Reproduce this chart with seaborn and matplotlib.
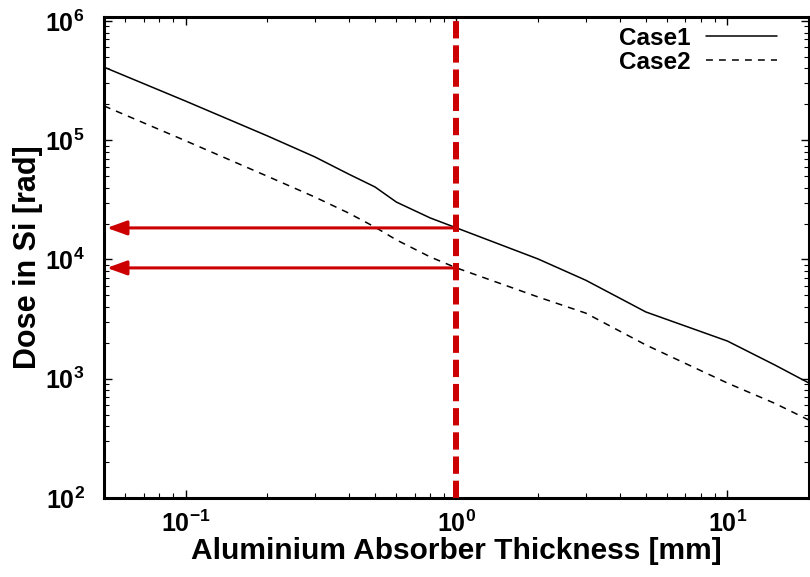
import numpy as np
import pandas as pd
import seaborn as sns
import matplotlib
matplotlib.use("Agg")
import matplotlib.pyplot as plt
from matplotlib.ticker import LogLocator, LogFormatterMathtext, NullFormatter

# ---- data ----
thickness = [0.05, 0.1, 0.2, 0.3, 0.4, 0.5, 0.6, 0.8, 1.0, 2.0, 3.0, 5.0, 10.0, 15.0, 20.0]
case1 = [4.1e5, 2.13e5, 1.09e5, 7.25e4, 5.2e4, 4.06e4, 3.03e4, 2.23e4, 1.84e4,
         1.01e4, 6.7e3, 3.63e3, 2.07e3, 1.30e3, 9.2e2]
case2 = [1.94e5, 9.9e4, 5.0e4, 3.34e4, 2.45e4, 1.87e4, 1.46e4, 1.05e4, 8.5e3,
         4.85e3, 3.55e3, 1.92e3, 9.2e2, 6.2e2, 4.5e2]
series_names = ["Case1", "Case2"]
cut_thickness = 1.0
arrow_doses = [1.84e4, 8.5e3]
x_label = "Aluminium Absorber Thickness [mm]"
y_label = "Dose in Si [rad]"

df = pd.DataFrame({
    "x": thickness * 2,
    "y": case1 + case2,
    "case": [series_names[0]] * len(thickness) + [series_names[1]] * len(thickness),
})

sns.set_theme(style="ticks")
plt.rcParams["font.family"] = ["Liberation Sans", "DejaVu Sans"]
plt.rcParams["font.weight"] = "bold"
plt.rcParams["text.color"] = "black"
plt.rcParams["axes.labelcolor"] = "black"
plt.rcParams["xtick.color"] = "black"
plt.rcParams["ytick.color"] = "black"
plt.rcParams["axes.unicode_minus"] = False
plt.rcParams["mathtext.fontset"] = "custom"
plt.rcParams["mathtext.rm"] = "Liberation Sans:bold"
plt.rcParams["mathtext.it"] = "Liberation Sans:bold"
plt.rcParams["mathtext.bf"] = "Liberation Sans:bold"

fig = plt.figure(figsize=(8.10, 5.77), dpi=100)
ax = fig.add_axes([104 / 810, 1 - 498 / 577, (809 - 104) / 810, (498 - 17) / 577])

red = "#cc0000"

sns.lineplot(data=df, x="x", y="y", hue="case", style="case",
             palette={"Case1": "black", "Case2": "black"},
             dashes={"Case1": "", "Case2": (4.5, 4)},
             linewidth=1.1, ax=ax, legend=True, zorder=2)

ax.set_xscale("log")
ax.set_yscale("log")
ax.set_xlim(0.05, 20)
ax.set_ylim(1e2, 1.08e6)

# vertical dashed red line
ax.axvline(cut_thickness, color=red, lw=4.3, dashes=(2.9, 1.15), zorder=4)

# arrows
for d in arrow_doses:
    ax.annotate("", xy=(0.0512, d), xytext=(cut_thickness, d),
                arrowprops=dict(arrowstyle="-|>,head_length=1.0,head_width=0.36",
                                color=red, lw=2.2, shrinkA=0, shrinkB=0),
                zorder=5)

ax.xaxis.set_major_locator(LogLocator(base=10, numticks=20))
ax.yaxis.set_major_locator(LogLocator(base=10, numticks=20))
ax.xaxis.set_minor_locator(LogLocator(base=10, subs=np.arange(2, 10), numticks=100))
ax.yaxis.set_minor_locator(LogLocator(base=10, subs=np.arange(2, 10), numticks=100))
ax.xaxis.set_major_formatter(LogFormatterMathtext())
ax.yaxis.set_major_formatter(LogFormatterMathtext())
ax.xaxis.set_minor_formatter(NullFormatter())
ax.yaxis.set_minor_formatter(NullFormatter())

ax.tick_params(which="both", direction="in", top=True, right=True,
               color="black", labelcolor="black")
ax.tick_params(which="major", length=6, width=1.0, labelsize=18)
ax.tick_params(which="minor", length=3.5, width=0.8)
ax.tick_params(axis="x", which="major", pad=9)
ax.tick_params(axis="y", which="major", pad=14)
for lab in ax.get_xticklabels() + ax.get_yticklabels():
    lab.set_fontweight("bold")

for s in ax.spines.values():
    s.set_linewidth(2.2)
    s.set_color("black")
    s.set_visible(True)

ax.set_xlabel(x_label, fontsize=21.5, fontweight="bold", labelpad=0, color="black")
ax.set_ylabel(y_label, fontsize=22, fontweight="bold", labelpad=1.5, color="black")

leg = ax.legend(loc="upper right", bbox_to_anchor=(0.975, 1.01), frameon=False,
                markerfirst=False, fontsize=17.5, handlelength=2.9,
                handletextpad=0.65, labelspacing=0.05, borderaxespad=0.2)
for t in leg.get_texts():
    t.set_fontweight("bold")
    t.set_color("black")
for h in leg.get_lines():
    h.set_linewidth(1.1)

fig.savefig("out.png", dpi=100)
